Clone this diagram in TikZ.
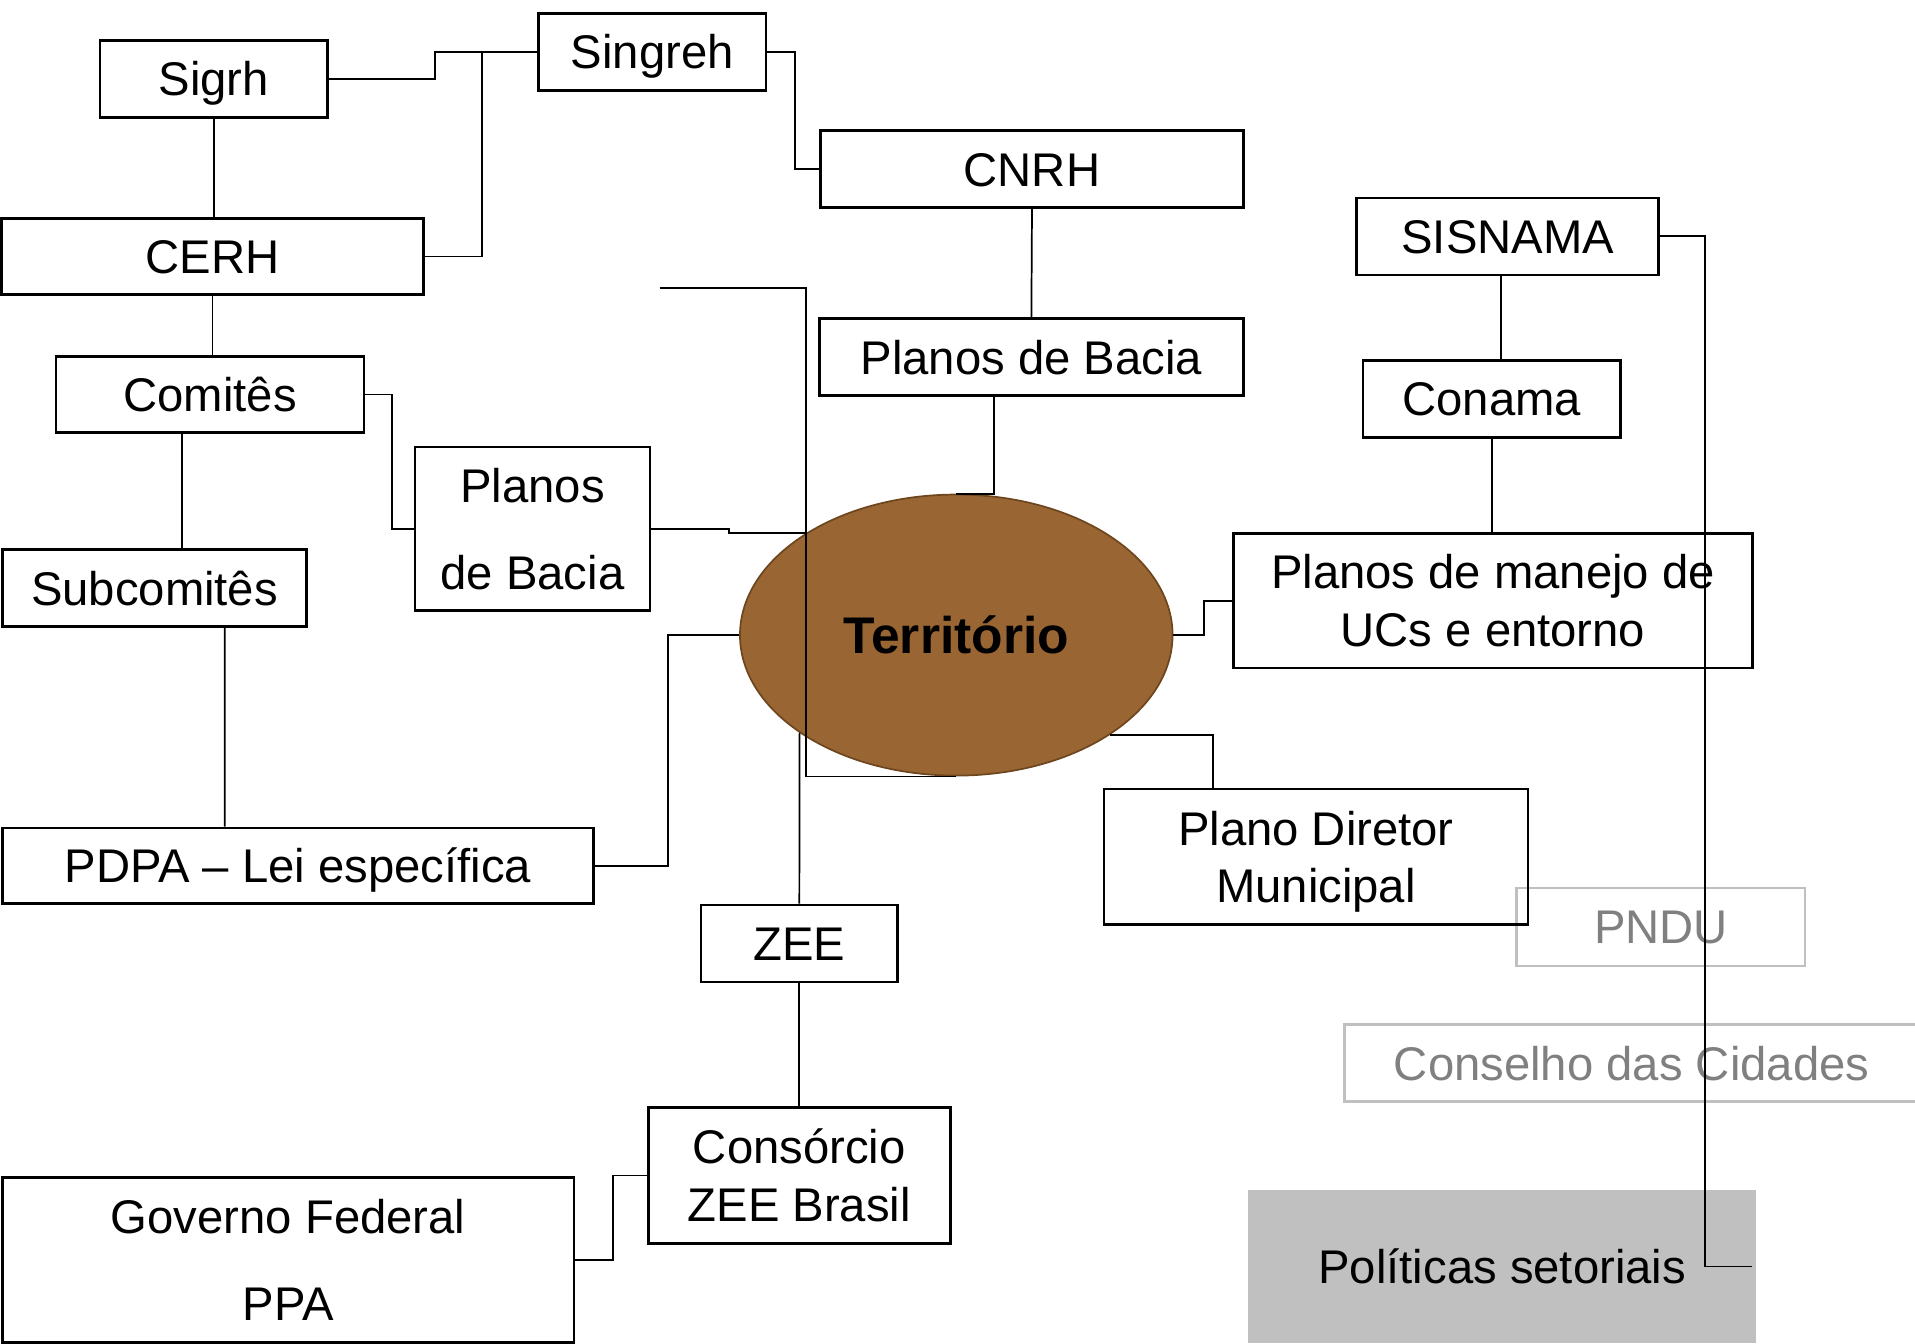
\documentclass[tikz,border=0pt]{standalone}
\usepackage{fontspec}
\setmainfont{Liberation Sans}
\usetikzlibrary{shapes.geometric}

\definecolor{terra}{RGB}{153,102,51}
\definecolor{terraborda}{RGB}{110,70,30}
\definecolor{cinza}{RGB}{192,192,192}
\definecolor{cinzatexto}{RGB}{128,128,128}

\begin{document}
\begin{tikzpicture}[x=0.01cm, y=-0.01cm,
        caixa/.style={draw, line width=0.6pt, inner sep=0pt, align=center, font=\fontsize{11}{13.4}\selectfont},
        linha/.style={caixa, text height=7.9pt, text depth=0pt},
        caixacinza/.style={linha, draw=cinza, text=cinzatexto},
        liga/.style={line width=0.4pt}]
    \useasboundingbox (0,0) rectangle (1568,1100);

    % sistemas de recursos hidricos
    \node[linha, minimum width=1.86cm, minimum height=0.63cm] (Sigrh) at (175,64.5) {Sigrh};
    \node[linha, minimum width=1.86cm, minimum height=0.63cm] (Singreh) at (534,42.5) {Singreh};
    \node[linha, minimum width=3.46cm, minimum height=0.63cm] (CNRH) at (845,138.5) {CNRH};
    \node[linha, minimum width=3.45cm, minimum height=0.62cm] (CERH) at (174,210) {CERH};
    \node[linha, minimum width=3.47cm, minimum height=0.63cm] (BaciaCNRH) at (844.5,292.5) {Planos de Bacia};
    \node[linha, minimum width=2.52cm, minimum height=0.62cm] (Comites) at (172,323) {Comitês};
    \node[caixa, minimum width=1.92cm, minimum height=1.34cm] (BaciaComites) at (436,433) {Planos\\[6.8pt]de Bacia};
    \node[linha, minimum width=2.49cm, minimum height=0.63cm] (Subcomites) at (126.5,481.5) {Subcomitês};
    \node[linha, minimum width=4.84cm, minimum height=0.62cm] (PDPA) at (244,709) {PDPA -- Lei específica};

    % meio ambiente
    \node[linha, minimum width=2.47cm, minimum height=0.63cm] (SISNAMA) at (1234.5,193.5) {SISNAMA};
    \node[linha, minimum width=2.11cm, minimum height=0.63cm] (Conama) at (1221.5,326.5) {Conama};
    \node[caixa, minimum width=4.25cm, minimum height=1.10cm] (Manejo) at (1222.5,492) {Planos de manejo de\\UCs e entorno};

    % cidades
    \node[caixacinza, minimum width=2.36cm, minimum height=0.64cm] (PNDU) at (1360,759) {PNDU};
    \node[caixacinza, minimum width=4.70cm, minimum height=0.63cm] (Cidades) at (1336,870.5) {Conselho das Cidades};
    \node[caixa, minimum width=3.47cm, minimum height=1.11cm] (Diretor) at (1077.5,701.5) {Plano Diretor\\\raisebox{0pt}[\height][0pt]{Municipal}};
    \node[linha, draw=none, fill=cinza, minimum width=4.16cm, minimum height=1.26cm] (Politicas) at (1230,1037) {Políticas setoriais};

    % zoneamento
    \node[linha, minimum width=1.61cm, minimum height=0.63cm] (ZEE) at (654.5,772.5) {ZEE};
    \node[caixa, minimum width=2.47cm, minimum height=1.11cm] (Consorcio) at (654.5,962.5) {Consórcio\\ZEE Brasil};
    \node[caixa, minimum width=4.68cm, minimum height=1.35cm] (Governo) at (236,1031.5) {Governo Federal\\[6.8pt]PPA};

    \node[ellipse, fill=terra, draw=terraborda, minimum width=3.54cm, minimum height=2.30cm, inner sep=0pt,
        font=\fontsize{12}{14}\selectfont\bfseries] (Territorio) at (783,520) {Território};

    \coordinate (solta) at (540,236);

    \draw[liga] (Sigrh.east) -- ++(87,0) |- (Singreh.west);
    \draw[liga] (CERH.east) -- ++(47,0) |- (Singreh.west);
    \draw[liga] (Sigrh.south) -- (Sigrh.south |- CERH.north);
    \draw[liga] (Singreh.east) -- ++(23,0) |- (CNRH.west);
    \draw[liga] (CNRH.south) -- (BaciaCNRH.north);
    \draw[liga] ([xshift=-0.305cm]BaciaCNRH.south) |- (Territorio.north);
    \draw[liga] (CERH.south) -- (CERH.south |- Comites.north);
    \draw[liga] ([xshift=-0.23cm]Comites.south) -- ([xshift=0.225cm]Subcomites.north);
    \draw[liga] (Comites.east) -- ++(22,0) |- (BaciaComites.west);
    \draw[liga] (BaciaComites.east) -- ++(64,0) |- (Territorio.146);
    \draw[liga] ([xshift=0.575cm]Subcomites.south) -- ([xshift=-0.6cm]PDPA.north);
    \draw[liga] (PDPA.east) -- ++(60,0) |- (Territorio.west);
    \draw[liga] (solta) -| ([xshift=-1.23cm]Territorio.south) -- (Territorio.south);
    \draw[liga] (ZEE.north) -- (Territorio.212);
    \draw[liga] (ZEE.south) -- (Consorcio.north);
    \draw[liga] (Governo.east) -- ++(31,0) |- (Consorcio.west);
    \draw[liga] (Territorio.east) -- ++(25,0) |- (Manejo.west);
    \draw[liga] (Territorio.327) -| ([xshift=-0.845cm]Diretor.north);
    \draw[liga] ([xshift=-0.055cm]SISNAMA.south) -- ([xshift=0.075cm]Conama.north);
    \draw[liga] (Conama.south) -- (Conama.south |- Manejo.north);
    \draw[liga] (SISNAMA.east) -- ++(37,0) |- ([xshift=-0.05cm]Politicas.east);
\end{tikzpicture}
\end{document}
